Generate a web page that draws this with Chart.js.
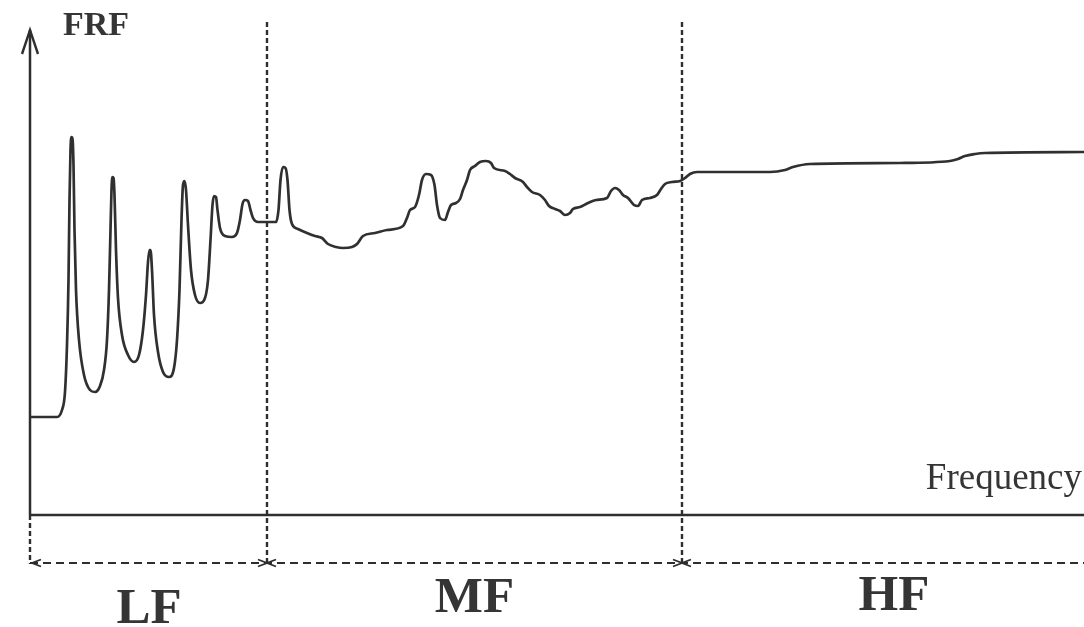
<!DOCTYPE html>
<html>
<head>
<meta charset="utf-8">
<script src="https://cdn.jsdelivr.net/npm/chart.js@4.4.1/dist/chart.umd.min.js"></script>
<style>
  html, body { margin: 0; padding: 0; background: #ffffff; }
  #wrap { width: 1084px; height: 627px; position: relative; }
</style>
</head>
<body>
<div id="wrap"><canvas id="c" width="1084" height="627"></canvas></div>
<script>
// Frequency (arbitrary units, 0 at the FRF axis)
const frequency = [
  0, 26, 31, 34, 36, 37.5, 38.5, 39.5, 40.5, 41.5, 42.5, 43.5, 45, 48, 53, 59, 64, 69, 73, 76, 78,
  79.5, 80.5, 81.5, 82.5, 83.5, 85, 87, 91, 97, 103, 108, 112, 115, 117, 118.5, 119.5, 121, 123,
  127, 132, 138, 143, 146, 148.5, 150.5, 152, 153.5, 155, 157, 160, 164, 169, 174, 177, 179.5,
  181.5, 183, 185, 186.5, 189, 194, 201, 206, 209, 211.5, 214, 217, 219.5, 222, 227, 245, 247.5,
  249.5, 252, 254.5, 256.5, 258.5, 261, 267, 276, 284, 291, 297, 305, 312, 321, 326, 332, 344,
  356, 372, 376, 379, 384, 388, 391, 395, 400, 403.5, 406, 409, 414, 417, 420, 425, 429, 432,
  436, 439, 444, 449, 455, 460, 463, 474, 479, 484, 492, 496, 501, 509, 514, 518, 524, 529, 534,
  539, 542, 549, 557, 565, 576, 580, 584, 588, 592, 597, 603, 607, 611, 619, 626, 630, 634, 641,
  649, 654, 659, 666, 739, 754, 762, 779, 869, 919, 927, 934, 944, 954, 1053
];
// FRF amplitude (arbitrary units)
const frf = [
  98, 98, 105, 123, 170, 235, 315, 365, 378, 376, 350, 285, 225, 175, 140, 125, 123, 129, 145, 175, 225,
  285, 325, 338, 337, 320, 265, 217, 180, 160, 153, 160, 185, 220, 253, 265, 265, 245, 200,
  163, 143, 138, 147, 175, 225, 295, 330, 334, 325, 290, 245, 220, 212, 217, 235, 275,
  310, 319, 318, 305, 287, 279, 278, 282, 295, 311, 315, 314, 305, 297, 293, 293, 305,
  335, 348, 347, 335, 305, 291, 286, 282, 279, 277, 271, 268, 267, 268, 271, 279, 282,
  285, 289, 297, 305, 308, 320, 335, 341, 340, 330, 310, 297, 295, 303, 310, 312, 316, 325,
  335, 345, 349, 353, 354, 352, 347, 344, 341, 337, 333, 328, 323, 320, 315, 309, 306, 304, 300,
  302, 306, 308, 312, 315, 317, 324, 327, 325, 320, 317, 310, 309, 315, 317, 320, 326, 331, 333,
  334, 337, 341, 343, 343, 345, 348, 351, 352, 354, 356, 359, 361, 362, 363
];
// Frequency band limits and names
const bandLimits = [0, 236, 651, 1075];
const bandNames = ["LF", "MF", "HF"];
const yAxisTitle = "FRF";
const xAxisTitle = "Frequency";

const INK = "#2e2e2e";

const sketchPlugin = {
  id: "sketch",
  afterDatasetsDraw(chart) {
    const ctx = chart.ctx;
    const xs = chart.scales.x, ys = chart.scales.y;
    const x0 = xs.getPixelForValue(0);
    const y0 = ys.getPixelForValue(0);
    const xEnd = xs.getPixelForValue(bandLimits[bandLimits.length - 1]) + 7;
    const dimY = y0 + 48;
    ctx.save();
    ctx.strokeStyle = INK;
    ctx.fillStyle = INK;
    ctx.lineCap = "butt";

    // axes
    ctx.lineWidth = 2.5;
    ctx.setLineDash([]);
    ctx.beginPath();
    ctx.moveTo(x0 - 1, y0);
    ctx.lineTo(xEnd, y0);
    ctx.moveTo(x0 - 1, y0);
    ctx.lineTo(x0 - 1, 30);
    ctx.stroke();
    // arrow heads
    ctx.lineWidth = 2.4;
    ctx.beginPath();
    ctx.moveTo(xEnd - 17, y0 - 7);
    ctx.lineTo(xEnd, y0);
    ctx.lineTo(xEnd - 17, y0 + 7);
    ctx.moveTo(x0 - 9, 54);
    ctx.lineTo(x0 - 1, 30);
    ctx.lineTo(x0 + 7, 54);
    ctx.stroke();

    // dashed region boundaries
    ctx.lineWidth = 2.4;
    ctx.setLineDash([5, 3]);
    ctx.beginPath();
    for (let i = 1; i < bandLimits.length - 1; i++) {
      const px = xs.getPixelForValue(bandLimits[i]);
      ctx.moveTo(px, 22);
      ctx.lineTo(px, dimY + 1);
    }
    ctx.moveTo(x0 - 1, y0);
    ctx.lineTo(x0 - 1, dimY + 1);
    ctx.stroke();

    // dimension line
    ctx.setLineDash([8, 5]);
    ctx.lineWidth = 2;
    ctx.beginPath();
    ctx.moveTo(x0 - 1, dimY);
    ctx.lineTo(chart.width + 5, dimY);
    ctx.stroke();
    ctx.setLineDash([]);
    ctx.lineWidth = 1.8;
    const head = (tipX, dir) => {
      ctx.beginPath();
      ctx.moveTo(tipX + dir * 9, dimY - 3.5);
      ctx.lineTo(tipX, dimY);
      ctx.lineTo(tipX + dir * 9, dimY + 3.5);
      ctx.stroke();
    };
    for (let i = 0; i < bandLimits.length - 1; i++) {
      const a = xs.getPixelForValue(bandLimits[i]) + (i === 0 ? 1 : 0);
      const b = xs.getPixelForValue(bandLimits[i + 1]);
      head(a, 1);
      if (i < bandLimits.length - 2) head(b, -1);
    }

    // texts
    ctx.fillStyle = "#353535";
    ctx.textBaseline = "alphabetic";
    ctx.font = "bold 34px 'Liberation Serif'";
    ctx.textAlign = "left";
    ctx.fillText(yAxisTitle, x0 + 32, 35);
    ctx.font = "37px 'Liberation Serif'";
    ctx.textAlign = "right";
    ctx.fillText(xAxisTitle, chart.width - 2, 489);
    ctx.font = "bold 51px 'Liberation Serif'";
    ctx.textAlign = "center";
    const baselines = [623, 612, 610];
    for (let i = 0; i < bandNames.length; i++) {
      const c = xs.getPixelForValue((bandLimits[i] + bandLimits[i + 1]) / 2);
      ctx.fillText(bandNames[i], c, baselines[i]);
    }
    ctx.restore();
  }
};

new Chart(document.getElementById("c"), {
  type: "line",
  data: {
    datasets: [{
      data: frequency.map((f, i) => ({ x: f, y: frf[i] })),
      borderColor: "#303030",
      borderWidth: 2.7,
      pointRadius: 0,
      cubicInterpolationMode: "monotone",
      fill: false
    }]
  },
  options: {
    responsive: false,
    animation: false,
    devicePixelRatio: 1,
    layout: { padding: { left: 31, right: 0, top: 15, bottom: 112 } },
    plugins: { legend: { display: false }, tooltip: { enabled: false } },
    scales: {
      x: { type: "linear", min: 0, max: 1053, display: false },
      y: { type: "linear", min: 0, max: 500, display: false }
    }
  },
  plugins: [sketchPlugin]
});
</script>
</body>
</html>
